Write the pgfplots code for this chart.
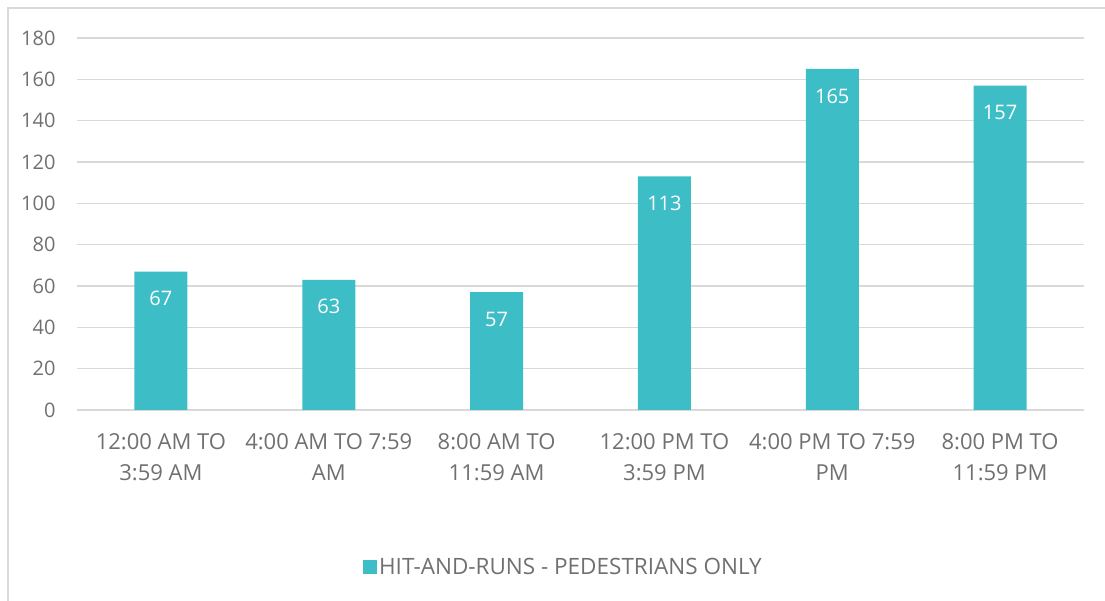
\documentclass[border=0pt]{standalone}
\usepackage{pgfplots}
\pgfplotsset{compat=1.18}
\usepackage{fontspec}
\setmainfont{Open Sans}
\definecolor{barc}{HTML}{3DBEC6}
\definecolor{gridc}{HTML}{D9D9D9}
\definecolor{txtc}{HTML}{707070}
\begin{document}
\begin{tikzpicture}[x=1pt,y=1pt]
\useasboundingbox (0,0) rectangle (1105,601);
\draw[gridc, line width=1.5pt] (8,0) -- (8,593) -- (1105,593);
\begin{axis}[
  at={(77pt,191pt)}, anchor=south west,
  scale only axis, width=1007pt, height=372pt,
  xmin=-0.5, xmax=5.5, ymin=0, ymax=180,
  ytick={0,20,...,180},
  /pgf/number format/assume math mode=true,
  yticklabel={\fontsize{20}{24}\selectfont\pgfmathprintnumber{\tick}},
  xtick={0,...,5},
  xticklabels={{12:00 AM TO\\3:59 AM},{4:00 AM TO 7:59\\AM},{8:00 AM TO\\11:59 AM},{12:00 PM TO\\3:59 PM},{4:00 PM TO 7:59\\PM},{8:00 PM TO\\11:59 PM}},
  axis line style={draw=none},
  major tick length=0pt,
  ymajorgrids, grid style={gridc, line width=1.2pt},
  tick label style={text=txtc},
  yticklabel style={font=\fontsize{20}{24}\selectfont, anchor=east, xshift=-18pt},
  xticklabel style={font=\fontsize{22}{31}\selectfont, align=center, anchor=north, yshift=-20pt},
  ybar, bar width=53pt,
  nodes near coords,
  nodes near coords style={font=\fontsize{20}{22}\selectfont, text=white, anchor=center, yshift=-27pt},
  legend style={at={(0.483,-0.422)}, anchor=center, draw=none, fill=none,
    font=\fontsize{22.5}{24}\selectfont, text=txtc, inner sep=0pt},
  legend image code/.code={\fill[#1] (0pt,-7pt) rectangle (14pt,7pt);},
]
\addplot[fill=barc, draw=none] coordinates {(0,67) (1,63) (2,57) (3,113) (4,165) (5,157)};
\addlegendentry{HIT-AND-RUNS - PEDESTRIANS ONLY}
\end{axis}
\end{tikzpicture}
\end{document}
